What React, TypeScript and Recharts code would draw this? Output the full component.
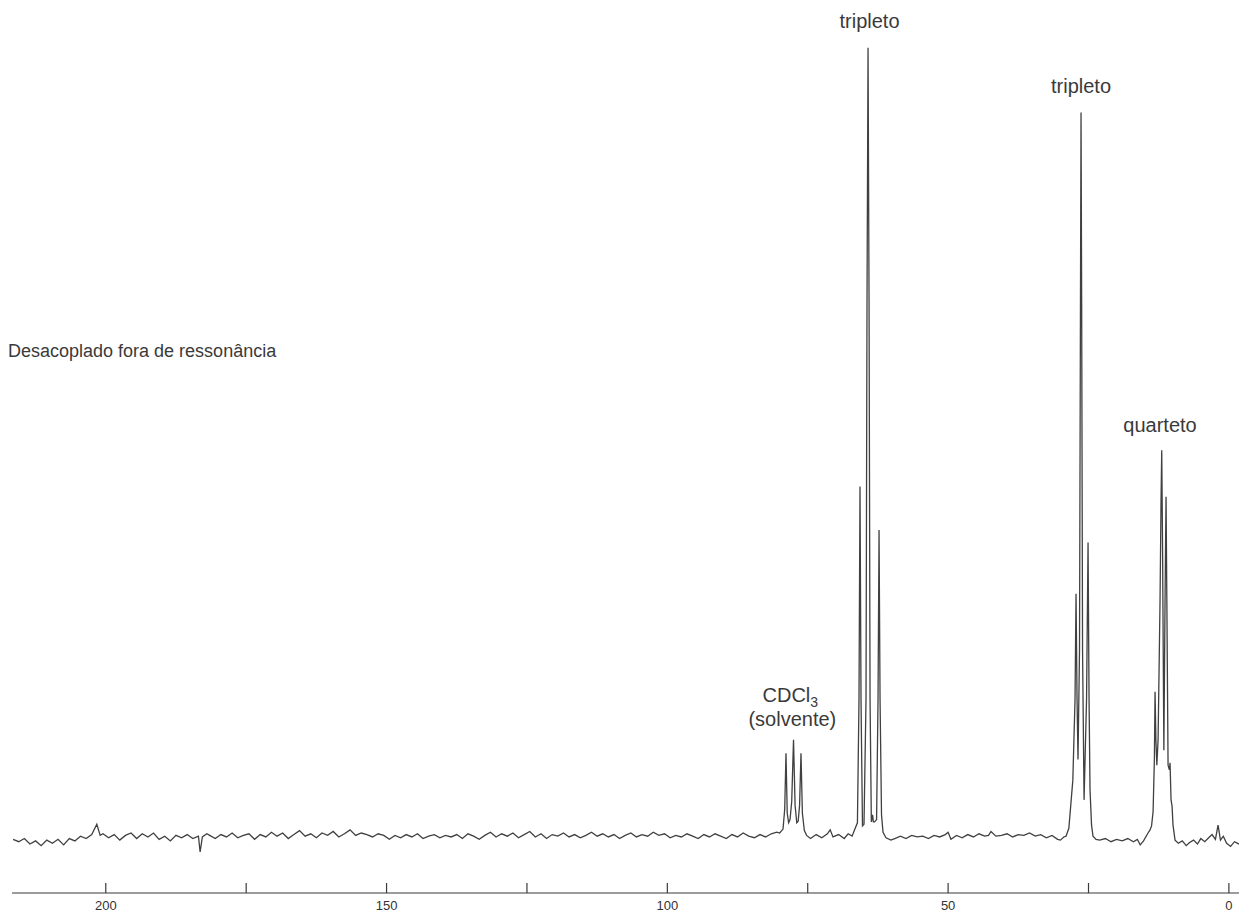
import { LineChart, Line, XAxis, YAxis, ReferenceDot } from "recharts";

// [ppm, intensity], baseline ~ 0, tallest line = 100
const baselineDownfield = [
  [216.5, -0.3], [215.5, -0.6], [214.5, -0.2], [213.5, -0.9], [212.5, -0.5],
  [211.5, -1.1], [210.5, -0.4], [209.5, -0.8], [208.5, -0.3], [207.5, -1.0],
  [206.5, -0.2], [205.5, -0.5], [204.5, 0.1], [203.5, -0.2], [202.5, 0.3],
  [201.6, 1.6], [201.0, 0.2], [200.5, 0.4], [199.5, -0.1], [198.5, 0.3],
  [197.5, -0.4], [196.5, 0.2], [195.5, 0.5], [194.5, -0.2], [193.5, 0.4],
  [192.5, 0.0], [191.5, 0.5], [190.5, -0.3], [189.5, 0.1], [188.5, -0.5],
  [187.5, 0.2], [186.5, -0.1], [185.5, 0.3], [184.5, -0.2], [183.5, 0.1],
  [183.2, -1.9], [182.8, 0.0], [182.0, 0.4], [181.5, 0.2], [180.5, -0.2],
  [179.5, 0.3], [178.5, 0.0], [177.5, 0.5], [176.5, -0.1], [175.5, 0.2],
  [174.5, 0.4], [173.5, -0.3], [172.5, 0.3], [171.5, 0.0], [170.5, 0.6],
  [169.5, 0.1], [168.5, 0.5], [167.5, -0.2], [166.5, 0.3], [165.5, 0.8],
  [164.5, 0.1], [163.5, 0.4], [162.5, -0.1], [161.5, 0.5], [160.5, 0.2],
  [159.5, 0.7], [158.5, 0.0], [157.5, 0.4], [156.5, 0.9], [155.5, 0.2],
  [154.5, 0.5], [153.5, 0.3], [152.5, 0.0], [151.5, 0.4], [150.5, 0.2],
  [149.5, -0.3], [148.5, 0.2], [147.5, -0.1], [146.5, 0.3], [145.5, 0.0],
  [144.5, 0.4], [143.5, -0.2], [142.5, 0.1], [141.5, 0.3], [140.5, -0.1],
  [139.5, 0.2], [138.5, 0.0], [137.5, 0.3], [136.5, -0.2], [135.5, 0.4],
  [134.5, 0.1], [133.5, -0.3], [132.5, 0.2], [131.5, 0.6], [130.5, 0.0],
  [129.5, 0.4], [128.5, 0.1], [127.5, 0.5], [126.5, -0.1], [125.5, 0.3],
  [124.5, 0.7], [123.5, 0.0], [122.5, 0.4], [121.5, -0.2], [120.5, 0.3],
  [119.5, 0.1], [118.5, 0.5], [117.5, 0.0], [116.5, 0.3], [115.5, -0.1],
  [114.5, 0.2], [113.5, 0.6], [112.5, 0.1], [111.5, 0.4], [110.5, 0.0],
  [109.5, 0.3], [108.5, -0.2], [107.5, 0.2], [106.5, 0.5], [105.5, 0.0],
  [104.5, 0.3], [103.5, 0.1], [102.5, 0.6], [101.5, 0.2], [100.5, 0.4],
  [99.5, -0.1], [98.5, 0.2], [97.5, 0.0], [96.5, 0.4], [95.5, 0.1],
  [94.5, -0.2], [93.5, 0.3], [92.5, 0.0], [91.5, 0.4], [90.5, 0.1],
  [89.5, -0.2], [88.5, 0.3], [87.5, 0.0], [86.5, 0.5], [85.5, 0.1],
  [84.5, -0.1], [83.5, 0.3], [82.5, 0.0], [81.5, 0.4], [80.5, 0.6],
];

const solventTriplet = [
  [80.0, 0.5], [79.4, 1.0], [79.1, 3.5], [78.87, 10.6], [78.65, 3.0],
  [78.4, 1.8], [78.15, 2.2], [77.85, 4.5], [77.53, 12.3], [77.25, 4.0],
  [76.95, 1.8], [76.7, 2.0], [76.45, 4.0], [76.2, 10.6], [75.95, 3.0],
  [75.6, 0.8], [75.2, 0.2],
];

const baselineGap1 = [
  [74.5, -0.2], [73.5, 0.3], [72.5, -0.1], [71.5, 0.4], [71.0, 0.9],
  [70.5, 0.0], [69.5, 0.3], [68.5, -0.2], [67.8, 0.4],
];

const tripletA = [
  [67.1, 0.1], [66.6, 1.0], [66.15, 1.8], [65.87, 17.4], [65.69, 44.4],
  [65.51, 17.4], [65.25, 1.4], [64.98, 1.6], [64.62, 17.4], [64.44, 68.1],
  [64.26, 100], [64.08, 68.1], [63.9, 17.4], [63.67, 1.9], [63.45, 2.8],
  [63.31, 1.9], [63.1, 1.9], [62.74, 2.2], [62.48, 17.4], [62.3, 38.9],
  [62.12, 17.4], [61.86, 2.8], [61.59, 0.6], [61.06, -0.1],
];

const baselineGap2 = [
  [60.2, -0.4], [59.5, -0.2], [58.5, 0.1], [57.5, -0.2], [56.5, 0.2],
  [55.5, 0.0], [54.5, 0.1], [53.5, -0.2], [52.5, 0.2], [51.5, 0.0],
  [50.5, 0.3], [50.0, 0.6], [49.5, -0.3], [48.5, 0.2], [47.5, -0.1],
  [46.5, 0.3], [45.5, 0.0], [44.5, 0.4], [43.5, 0.1], [42.8, 0.2],
  [42.36, 0.7], [41.5, 0.1], [40.5, 0.2], [39.5, 0.4], [38.5, 0.0],
  [37.5, 0.3], [36.5, 0.2], [35.5, 0.5], [34.5, 0.1], [33.5, 0.3],
  [32.5, -0.1], [31.5, 0.2], [30.5, -0.3], [30.0, -0.4], [29.4, 0.0],
];

const tripletB = [
  [29.0, 0.1], [28.5, 1.1], [28.15, 4.1], [27.79, 7.2], [27.4, 17.4],
  [27.22, 30.8], [27.04, 17.4], [26.87, 9.8], [26.6, 23.7], [26.43, 68.1],
  [26.33, 91.8], [26.22, 68.1], [26.06, 23.7], [25.79, 4.7], [25.35, 17.4],
  [25.08, 37.3], [24.9, 17.4], [24.73, 6.0], [24.46, 1.5], [24.2, 0.1],
  [23.66, -0.3],
];

const baselineGap3 = [
  [23.0, -0.4], [22.0, -0.2], [21.0, -0.6], [20.0, -0.3], [19.0, -0.5],
  [18.0, -0.2], [17.0, -0.6], [16.3, -0.3], [15.8, -1.0], [15.2, -0.5],
  [14.4, 0.5],
];

const quartet = [
  [14.04, 0.9], [13.77, 1.4], [13.5, 3.2], [13.27, 9.8], [13.15, 18.4],
  [13.0, 12.3], [12.83, 9.1], [12.61, 12.3], [12.26, 30.0], [12.08, 42.7],
  [11.96, 49.0], [11.81, 36.4], [11.58, 11.0], [11.37, 30.0], [11.19, 43.1],
  [11.05, 30.0], [10.83, 9.1], [10.6, 8.5], [10.48, 9.4], [10.3, 4.7],
  [10.12, 3.9], [9.95, 1.5], [9.59, -0.4],
];

const baselineUpfield = [
  [9.0, -0.8], [8.3, -0.5], [7.6, -1.1], [7.0, -0.7], [6.3, -0.4],
  [5.6, -0.9], [5.0, -0.2], [4.3, -0.6], [3.6, -0.1], [3.0, 0.3],
  [2.4, -0.3], [1.93, 1.5], [1.5, -0.4], [1.0, 0.1], [0.4, -0.8],
  [-0.3, -1.2], [-1.0, -0.6], [-1.8, -0.9],
];

const tickValues = [200, 175, 150, 125, 100, 75, 50, 25, 0];
const tickLabels = ["200", "", "150", "", "100", "", "50", "", "0"];

const peakLabels = [
  { text: "tripleto", ppm: 64.0, intensity: 102.5 },
  { text: "tripleto", ppm: 26.33, intensity: 94.3 },
  { text: "quarteto", ppm: 12.26, intensity: 51.3 },
];
const solventLabel = { text: "CDCl", sub: "3", note: "(solvente)", ppm: 78.1, intensity: 17.1 };
const methodLabel = { text: "Desacoplado fora de ressonância", ppm: 216.7, intensity: 60.8 };

const spectrum = [
  ...baselineDownfield, ...solventTriplet, ...baselineGap1, ...tripletA,
  ...baselineGap2, ...tripletB, ...baselineGap3, ...quartet, ...baselineUpfield,
].map(([ppm, intensity]) => ({ ppm, intensity }));

const FONT = "'Liberation Sans', Arial, Helvetica, sans-serif";
const INK = "#3a3a3a";

export default function App() {
  return (
    <div style={{ position: "absolute", left: 0, top: 0, width: 1239, height: 913, background: "#fff" }}>
      <LineChart
        width={1239}
        height={913}
        data={spectrum}
        margin={{ top: 24, right: 0, bottom: 0, left: 12 }}
      >
        <XAxis
          dataKey="ppm"
          type="number"
          domain={[-1.8, 216.7]}
          reversed
          ticks={tickValues}
          interval={0}
          tickFormatter={(v: number) => tickLabels[tickValues.indexOf(v)] ?? ""}
          height={20}
          tickSize={-10}
          tickMargin={18}
          stroke={INK}
          strokeWidth={1.2}
          tick={{ fill: "#333", fontSize: 13, fontFamily: FONT }}
        />
        <YAxis hide domain={[-7.1, 103]} />
        <Line
          type="linear"
          dataKey="intensity"
          stroke="#404040"
          strokeWidth={1.3}
          dot={false}
          isAnimationActive={false}
        />
        {peakLabels.map((l, i) => (
          <ReferenceDot
            key={i}
            x={l.ppm}
            y={l.intensity}
            r={0}
            ifOverflow="visible"
            shape={(p: any) => (
              <text x={p.cx} y={p.cy} textAnchor="middle" fontSize={20} fontFamily={FONT} fill={INK}>
                {l.text}
              </text>
            )}
          />
        ))}
        <ReferenceDot
          x={solventLabel.ppm}
          y={solventLabel.intensity}
          r={0}
          ifOverflow="visible"
          shape={(p: any) => (
            <g>
              <text x={p.cx} y={p.cy} textAnchor="middle" fontSize={20} fontFamily={FONT} fill={INK}>
                {solventLabel.text}
                <tspan dy={5} fontSize={14}>{solventLabel.sub}</tspan>
              </text>
              <text x={p.cx + 2} y={p.cy + 24} textAnchor="middle" fontSize={20} fontFamily={FONT} fill={INK}>
                {solventLabel.note}
              </text>
            </g>
          )}
        />
        <ReferenceDot
          x={methodLabel.ppm}
          y={methodLabel.intensity}
          r={0}
          ifOverflow="visible"
          shape={(p: any) => (
            <text x={p.cx - 4} y={p.cy} textAnchor="start" fontSize={18} fontFamily={FONT} fill={INK}>
              {methodLabel.text}
            </text>
          )}
        />
      </LineChart>
    </div>
  );
}
